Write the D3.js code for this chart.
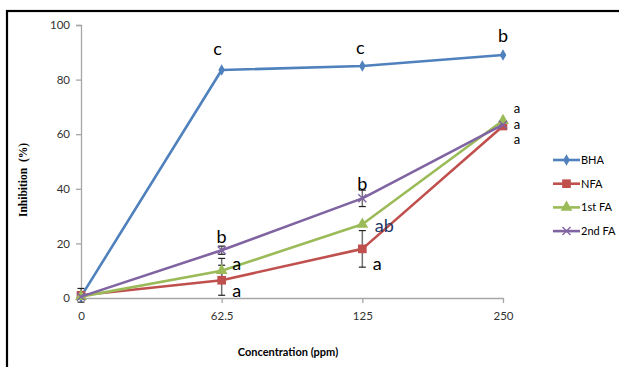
<!DOCTYPE html>
<html>
<head>
<meta charset="utf-8">
<script src="https://cdn.jsdelivr.net/npm/d3@7"></script>
<style>
  html, body { margin: 0; padding: 0; background: #fff; }
  svg { display: block; }
</style>
</head>
<body>
<svg id="chart" width="619" height="367"></svg>
<script>
// Concentrations (ppm) on the category axis
const categories = ["0", "62.5", "125", "250"];
const yTicks = [0, 20, 40, 60, 80, 100];

// Inhibition (%) for each sample
const bha    = [0.5, 83.5, 85, 89];
const nfa    = [1, 6.5, 18, 63];
const fa1    = [0.5, 10, 27, 65];
const fa2    = [0.5, 17.5, 36.5, 63.5];

// Standard deviations
const bhaErr = [0, 0, 0, 0];
const nfaErr = [2.5, 5.5, 6.7, 0];
const fa1Err = [0, 4.5, 0, 0];
const fa2Err = [0, 1.5, 3, 0];

const seriesNames  = ["BHA", "NFA", "1st FA", "2nd FA"];
const seriesColors = ["#4F81BD", "#C0504D", "#9BBB59", "#8064A2"];
const seriesShapes = ["diamond", "square", "triangle", "cross"];

// Significance letters: category, value level (%), text, placement
const letterCats   = ["62.5", "125", "250", "62.5", "62.5", "62.5", "125", "125", "125"];
const letterLevels = [89, 89.5, 93.8, 20, 10.3, 0.5, 39.5, 24, 10.4];
const letterTexts  = ["c", "c", "b", "b", "a", "a", "b", "ab", "a"];
const letterSides  = ["top", "top", "top", "top", "right", "right", "top", "right", "right"];

// Letters for the three fractions at 250 ppm, stacked in one label
const stackCat   = "250";
const stackLevel = 67.8;
const stackTexts = ["a", "a", "a"];

const allSeries = [bha, nfa, fa1, fa2];
const allErrs = [bhaErr, nfaErr, fa1Err, fa2Err];

const svg = d3.select("#chart");

// outer frame
svg.append("rect")
  .attr("x", 7).attr("y", 11)
  .attr("width", 700).attr("height", 400)
  .attr("fill", "none").attr("stroke", "#000").attr("stroke-width", 2.2);

const x = d3.scalePoint().domain(categories).range([81, 503]);
const y = d3.scaleLinear().domain([0, 100]).range([298, 25]);

const axisColor = "#A6A6A6";
const tickFont = "Lato, 'Open Sans', sans-serif";

// y axis
const yAxis = svg.append("g")
  .attr("transform", "translate(81,0)")
  .call(d3.axisLeft(y).tickValues(yTicks).tickSize(5).tickPadding(6).tickFormat(d3.format("d")));
yAxis.select(".domain").attr("stroke", axisColor).attr("stroke-width", 1.3);
yAxis.selectAll(".tick line").attr("stroke", axisColor).attr("stroke-width", 1.3);
yAxis.selectAll(".tick text").attr("fill", "#333").attr("font-size", 11.5).attr("font-family", tickFont);

// x axis
const xAxis = svg.append("g")
  .attr("transform", "translate(0,298)")
  .call(d3.axisBottom(x).tickSize(5).tickSizeOuter(0).tickPadding(9));
xAxis.select(".domain").attr("stroke", axisColor).attr("stroke-width", 1.3);
xAxis.selectAll(".tick line").attr("stroke", axisColor).attr("stroke-width", 1.3);
xAxis.selectAll(".tick text").attr("fill", "#333").attr("font-size", 11.5).attr("font-family", tickFont);

// axis titles
svg.append("text")
  .attr("x", 288).attr("y", 356)
  .attr("text-anchor", "middle")
  .attr("font-family", tickFont).attr("font-weight", "bold").attr("font-size", 11)
  .attr("fill", "#000")
  .text("Concentration (ppm)");

svg.append("text")
  .attr("transform", "translate(27,180) rotate(-90)")
  .attr("text-anchor", "middle")
  .attr("font-family", "'Liberation Serif', serif").attr("font-weight", "bold").attr("font-size", 11.5)
  .attr("fill", "#000")
  .attr("xml:space", "preserve")
  .text("Inhibition  (%)");

// markers
function drawMarker(g, shape, color, cx, cy) {
  if (shape === "cross") {
    const s = 4;
    g.append("path")
      .attr("d", `M${cx - s},${cy - s}L${cx + s},${cy + s}M${cx - s},${cy + s}L${cx + s},${cy - s}`)
      .attr("stroke", color).attr("stroke-width", 1.4).attr("fill", "none");
    return;
  }
  const sym = { diamond: [d3.symbolDiamond, 38], square: [d3.symbolSquare, 75], triangle: [d3.symbolTriangle, 60] }[shape];
  g.append("path")
    .attr("d", d3.symbol(sym[0], sym[1])())
    .attr("transform", `translate(${cx},${cy})`)
    .attr("fill", color);
}

// error bars
const errG = svg.append("g");
allSeries.forEach((vals, si) => {
  vals.forEach((v, i) => {
    const e = allErrs[si][i];
    if (!e) return;
    const cx = x(categories[i]);
    errG.append("line")
      .attr("x1", cx).attr("x2", cx)
      .attr("y1", y(v + e)).attr("y2", y(v - e))
      .attr("stroke", "#707070").attr("stroke-width", 1.5);
    [v + e, v - e].forEach(t => {
      errG.append("line")
        .attr("x1", cx - 3.5).attr("x2", cx + 3.5)
        .attr("y1", y(t)).attr("y2", y(t))
        .attr("stroke", "#222").attr("stroke-width", 1.2);
    });
  });
});

// lines and markers
const line = d3.line().x((d, i) => x(categories[i])).y(d => y(d));
allSeries.forEach((vals, si) => {
  const g = svg.append("g");
  g.append("path")
    .datum(vals)
    .attr("d", line)
    .attr("fill", "none")
    .attr("stroke", seriesColors[si])
    .attr("stroke-width", 2.6)
    .attr("stroke-linejoin", "round");
  vals.forEach((v, i) => drawMarker(g, seriesShapes[si], seriesColors[si], x(categories[i]), y(v)));
});

// significance letters: above the point, or to the right of its error bar
letterTexts.forEach((t, i) => {
  const cat = letterCats[i];
  let dx = 0;
  if (letterSides[i] === "right") dx = t === "ab" ? 22 : 15;
  else if (cat === "62.5" && letterLevels[i] > 80) dx = -4;
  else if (cat === "125" && letterLevels[i] > 80) dx = -2;
  svg.append("text")
    .attr("x", x(cat) + dx)
    .attr("y", y(letterLevels[i]))
    .attr("text-anchor", "middle")
    .attr("font-family", tickFont)
    .attr("font-size", 18)
    .attr("fill", t === "ab" ? "#1F3864" : "#000")
    .text(t);
});

// stacked letters at the highest concentration
const stack = svg.append("text")
  .attr("x", x(stackCat) + 14)
  .attr("y", y(stackLevel))
  .attr("text-anchor", "middle")
  .attr("font-family", tickFont)
  .attr("font-size", 13)
  .attr("fill", "#000");
stack.selectAll("tspan")
  .data(stackTexts)
  .join("tspan")
  .attr("x", x(stackCat) + 14)
  .attr("dy", (d, i) => i === 0 ? 0 : 15.7)
  .text(d => d);

// legend
const legend = svg.append("g");
seriesNames.forEach((name, si) => {
  const ly = 160 + si * 23.7;
  legend.append("line")
    .attr("x1", 553).attr("x2", 580)
    .attr("y1", ly).attr("y2", ly)
    .attr("stroke", seriesColors[si]).attr("stroke-width", 2.6);
  drawMarker(legend, seriesShapes[si], seriesColors[si], 566.5, ly);
  legend.append("text")
    .attr("x", 581).attr("y", ly + 4)
    .attr("font-family", tickFont).attr("font-size", 11)
    .attr("fill", "#000")
    .text(name);
});
</script>
</body>
</html>
